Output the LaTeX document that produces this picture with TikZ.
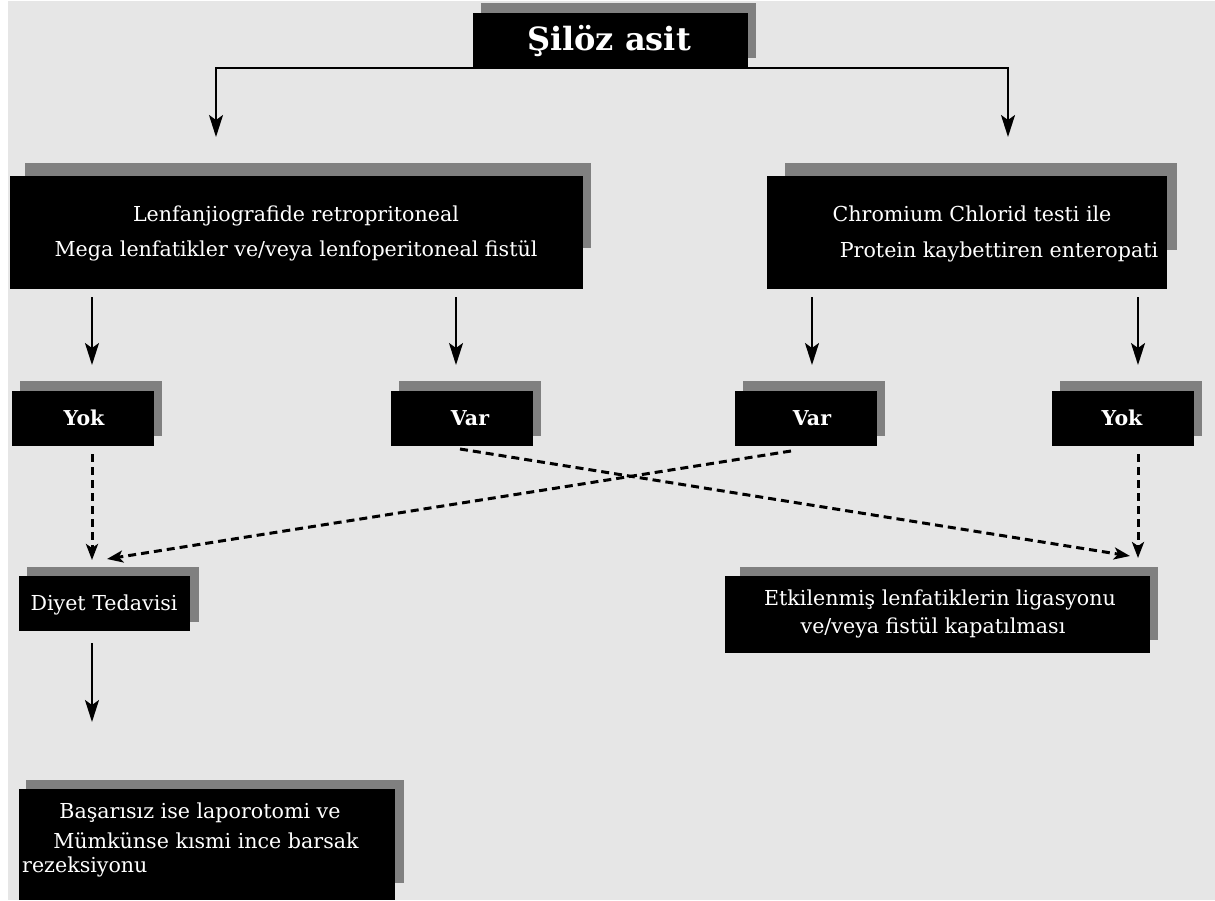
\documentclass[tikz,border=0pt]{standalone}
\usepackage{fontspec}
\setmainfont{DejaVu Serif}
\usetikzlibrary{arrows.meta,calc}
\definecolor{bggray}{HTML}{E6E6E6}
\definecolor{shgray}{HTML}{808080}
\begin{document}
\begin{tikzpicture}[x=1pt,y=-1pt,
  shadowfill/.style={fill=shgray},
  box/.style={fill=black, inner sep=0pt},
  txt/.style={text=white, inner sep=0pt, anchor=base, font=\fontsize{20.6}{24}\selectfont},
  btxt/.style={text=white, inner sep=0pt, anchor=base, font=\bfseries\fontsize{20.5}{24}\selectfont},
  arr/.style={draw=black, line width=2pt, -{Stealth[length=22pt,width=14pt,inset=5pt]}},
  darr/.style={draw=black, line width=3pt, dash pattern=on 8pt off 5pt, -{Stealth[length=16pt,width=12pt,inset=4pt]}}
]
\useasboundingbox (0,0) rectangle (1215,900);
\fill[white] (0,0) rectangle (1215,900);
\fill[bggray] (8,1) rectangle (1215,900);

% shadows
\fill[shadowfill] (481,3) rectangle (756,58);
\fill[shadowfill] (25,163) rectangle (591,248);
\fill[shadowfill] (785,163) rectangle (1177,250);
\fill[shadowfill] (20,381) rectangle (162,436);
\fill[shadowfill] (399,381) rectangle (541,436);
\fill[shadowfill] (743,381) rectangle (885,436);
\fill[shadowfill] (1060,381) rectangle (1202,436);
\fill[shadowfill] (27,567) rectangle (199,622);
\fill[shadowfill] (740,567) rectangle (1158,640);
\fill[shadowfill] (26,780) rectangle (404,883);

% boxes
\node[box, minimum width=275pt, minimum height=54pt] (title) at (610.5,40) {};
\node[box, minimum width=573pt, minimum height=113pt] (l1) at (296.5,232.5) {};
\node[box, minimum width=400pt, minimum height=113pt] (r1) at (967,232.5) {};
\node[box, minimum width=142pt, minimum height=55pt] (yok1) at (83,418.5) {};
\node[box, minimum width=142pt, minimum height=55pt] (var1) at (462,418.5) {};
\node[box, minimum width=142pt, minimum height=55pt] (var2) at (806,418.5) {};
\node[box, minimum width=142pt, minimum height=55pt] (yok2) at (1123,418.5) {};
\node[box, minimum width=171pt, minimum height=55pt] (diyet) at (104.5,603.5) {};
\node[box, minimum width=425pt, minimum height=77pt] (etk) at (937.5,614.5) {};
\node[box, minimum width=376pt, minimum height=111pt] (bas) at (207,844.5) {};

% texts
\node[txt, font=\bfseries\fontsize{32}{36}\selectfont] (ttitle) at (609,50) {Şilöz asit};
\node[txt] (tl1a) at (296,221) {Lenfanjiografide retropritoneal};
\node[txt] (tl1b) at (296,256) {Mega lenfatikler ve/veya lenfoperitoneal fistül};
\node[txt] (tr1a) at (972,221) {Chromium Chlorid testi ile};
\node[txt] (tr1b) at (999,257) {Protein kaybettiren enteropati};
\node[btxt] (tyok1) at (84,425) {Yok};
\node[btxt] (tvar1) at (470,425) {Var};
\node[btxt] (tvar2) at (812,425) {Var};
\node[btxt] (tyok2) at (1122,425) {Yok};
\node[txt] (tdiyet) at (104,610) {Diyet Tedavisi};
\node[txt] (tetka) at (940,605) {Etkilenmiş lenfatiklerin ligasyonu};
\node[txt] (tetkb) at (933,633) {ve/veya fistül kapatılması};
\node[txt] (tbasa) at (200,818) {Başarısız ise laporotomi ve};
\node[txt] (tbasb) at (206,848) {Mümkünse kısmi ince barsak};
\node[txt, anchor=base west] (tbasc) at (22,872) {rezeksiyonu};

% connector points
\coordinate (j) at ($(title.south)+(0,1)$);
\coordinate (e1) at (216,137);
\coordinate (e2) at (1008,137);
\coordinate (a1s) at (92,297);   \coordinate (a1e) at (92,365);
\coordinate (a2s) at (456,297);  \coordinate (a2e) at (456,365);
\coordinate (a3s) at (812,297);  \coordinate (a3e) at (812,365);
\coordinate (a4s) at (1138,297); \coordinate (a4e) at (1138,365);
\coordinate (d1s) at (92,454);   \coordinate (d1e) at (92,560);
\coordinate (d4s) at (1138,454); \coordinate (d4e) at (1138,558);
\coordinate (d2s) at (460,449);  \coordinate (d2e) at (1130,556);
\coordinate (d3s) at (791,451);  \coordinate (d3e) at (107,559);
\coordinate (s1s) at (92,643);   \coordinate (s1e) at (92,722);

\draw[arr] (j) -| (e1);
\draw[arr] (j) -| (e2);
\draw[arr] (a1s) -- (a1e);
\draw[arr] (a2s) -- (a2e);
\draw[arr] (a3s) -- (a3e);
\draw[arr] (a4s) -- (a4e);
\draw[darr] (d1s) -- (d1e);
\draw[darr] (d4s) -- (d4e);
\draw[darr] (d2s) -- (d2e);
\draw[darr] (d3s) -- (d3e);
\draw[arr] (s1s) -- (s1e);
\end{tikzpicture}
\end{document}
